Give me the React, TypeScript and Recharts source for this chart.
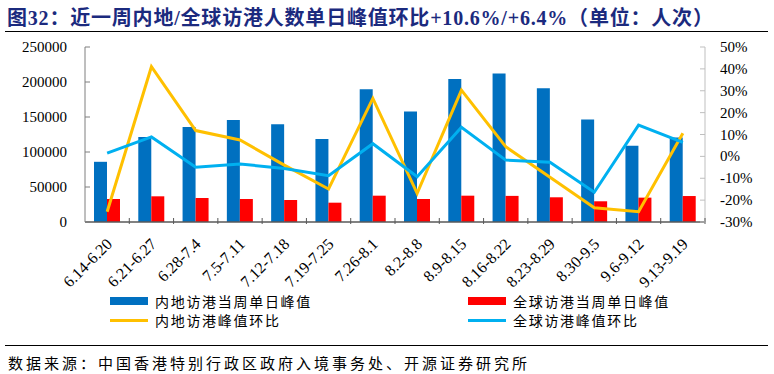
import { ComposedChart, Bar, Line, XAxis, YAxis } from "recharts";

const weeks = [
  "6.14-6.20", "6.21-6.27", "6.28-7.4", "7.5-7.11", "7.12-7.18", "7.19-7.25", "7.26-8.1",
  "8.2-8.8", "8.9-8.15", "8.16-8.22", "8.23-8.29", "8.30-9.5", "9.6-9.12", "9.13-9.19",
];
const mainlandPeak = [
  86000, 121400, 135700, 145700, 139500, 118600, 189500,
  157700, 204300, 212000, 191000, 146300, 109100, 120600,
];
const globalPeak = [
  32900, 36700, 34300, 32900, 31400, 27600, 37600,
  32900, 37600, 37300, 35300, 29600, 34800, 37100,
];
const mainlandWow = [-25.3, 41.0, 11.8, 7.5, -4.0, -14.9, 26.5, -16.9, 30.3, 4.4, -9.5, -23.5, -25.3, 10.6];
const globalWow = [1.5, 8.9, -5.0, -3.5, -5.5, -8.8, 5.8, -9.3, 13.3, -1.7, -2.7, -16.4, 14.3, 6.4];
const leftTicks = [0, 50000, 100000, 150000, 200000, 250000];
const rightTicks = [-30, -20, -10, 0, 10, 20, 30, 40, 50];

const data = weeks.map((w, i) => ({
  week: w,
  mainland: mainlandPeak[i],
  global: globalPeak[i],
  mainlandWow: mainlandWow[i],
  globalWow: globalWow[i],
}));

const serif = "'Liberation Serif', 'Times New Roman', 'Noto Sans CJK SC', serif";
const cjk = "'Liberation Serif', 'Noto Sans CJK SC', sans-serif";

function LeftTick({ x, y, payload }: any) {
  return (
    <g>
      <line x1={x + 18} x2={x + 23} y1={y} y2={y} stroke="#7f7f7f" />
      <text x={x} y={y} dy={5} textAnchor="end" fontSize={15} fontFamily={serif} fill="#000">
        {payload.value}
      </text>
    </g>
  );
}

function RightTick({ x, y, payload }: any) {
  return (
    <g>
      <line x1={x - 15} x2={x - 20} y1={y} y2={y} stroke="#bfbfbf" />
      <text x={x} y={y} dy={5} textAnchor="start" fontSize={15} fontFamily={serif} fill="#000">
        {payload.value}%
      </text>
    </g>
  );
}

function WeekTick({ x, y, payload }: any) {
  const half = payload.offset ?? 22;
  const bx = x + half;
  const tx = x + 6;
  const ty = y + 21;
  return (
    <g>
      <line x1={bx} x2={bx} y1={y} y2={y - 6} stroke="#595959" />
      <text
        x={tx}
        y={ty}
        textAnchor="end"
        fontSize={16}
        fontFamily={serif}
        fill="#000"
        transform={`rotate(-45 ${tx} ${ty})`}
      >
        {payload.value}
      </text>
    </g>
  );
}

const legendItems = [
  { label: "内地访港当周单日峰值", color: "#0070C0", kind: "bar", left: 110, top: 292 },
  { label: "全球访港当周单日峰值", color: "#FF0000", kind: "bar", left: 468, top: 292 },
  { label: "内地访港峰值环比", color: "#FFC000", kind: "line", left: 110, top: 311 },
  { label: "全球访港峰值环比", color: "#00B0F0", kind: "line", left: 468, top: 311 },
];

export default function App() {
  return (
    <div style={{ position: "absolute", left: 0, top: 0, width: 774, height: 374, background: "#fff" }}>
      <div
        style={{
          position: "absolute",
          left: 7,
          top: 2,
          fontSize: 20,
          fontWeight: "bold",
          color: "#1B2A7E",
          fontFamily: cjk,
          letterSpacing: 0.8,
          whiteSpace: "nowrap",
        }}
      >
        图32：近一周内地/全球访港人数单日峰值环比+10.6%/+6.4%（单位：人次）
      </div>
      <div style={{ position: "absolute", left: 5, top: 31, width: 763, height: 0, borderTop: "1.5px solid #000" }} />

      <div style={{ position: "absolute", left: 0, top: 0 }}>
        <ComposedChart
          width={774}
          height={374}
          data={data}
          margin={{ top: 47, right: 9, left: 25, bottom: 82 }}
          barGap={0}
        >
          <XAxis
            dataKey="week"
            interval={0}
            height={70}
            tickSize={0}
            tick={<WeekTick />}
            axisLine={{ stroke: "#595959", strokeWidth: 1.5 }}
          />
          <YAxis
            yAxisId="left"
            width={60}
            domain={[0, 250000]}
            ticks={leftTicks}
            interval={0}
            tickSize={0}
            tickMargin={18}
            tick={<LeftTick />}
            axisLine={{ stroke: "#7f7f7f" }}
          />
          <YAxis
            yAxisId="right"
            orientation="right"
            width={60}
            domain={[-30, 50]}
            ticks={rightTicks}
            interval={0}
            tickSize={0}
            tickMargin={15}
            tick={<RightTick />}
            axisLine={{ stroke: "#bfbfbf" }}
          />
          <Bar yAxisId="left" dataKey="mainland" fill="#0070C0" barSize={13} isAnimationActive={false} />
          <Bar yAxisId="left" dataKey="global" fill="#FF0000" barSize={13} isAnimationActive={false} />
          <Line
            yAxisId="right"
            dataKey="mainlandWow"
            stroke="#FFC000"
            strokeWidth={3}
            dot={false}
            type="linear"
            isAnimationActive={false}
          />
          <Line
            yAxisId="right"
            dataKey="globalWow"
            stroke="#00B0F0"
            strokeWidth={3}
            dot={false}
            type="linear"
            isAnimationActive={false}
          />
        </ComposedChart>
      </div>

      {legendItems.map((it) => (
        <div
          key={it.label}
          style={{ position: "absolute", left: it.left, top: it.top, display: "flex", alignItems: "center", height: 18 }}
        >
          <div
            style={{
              width: 38,
              height: it.kind === "bar" ? 8 : 3,
              background: it.color,
              marginRight: 7,
            }}
          />
          <span style={{ fontSize: 14, letterSpacing: 1.7, fontFamily: cjk, color: "#000", whiteSpace: "nowrap" }}>
            {it.label}
          </span>
        </div>
      ))}

      <div style={{ position: "absolute", left: 5, top: 345, width: 763, height: 0, borderTop: "1.5px solid #000" }} />
      <div
        style={{
          position: "absolute",
          left: 8,
          top: 352,
          fontSize: 15,
          letterSpacing: 3,
          fontFamily: cjk,
          color: "#000",
          whiteSpace: "nowrap",
        }}
      >
        数据来源：中国香港特别行政区政府入境事务处、开源证券研究所
      </div>
    </div>
  );
}
